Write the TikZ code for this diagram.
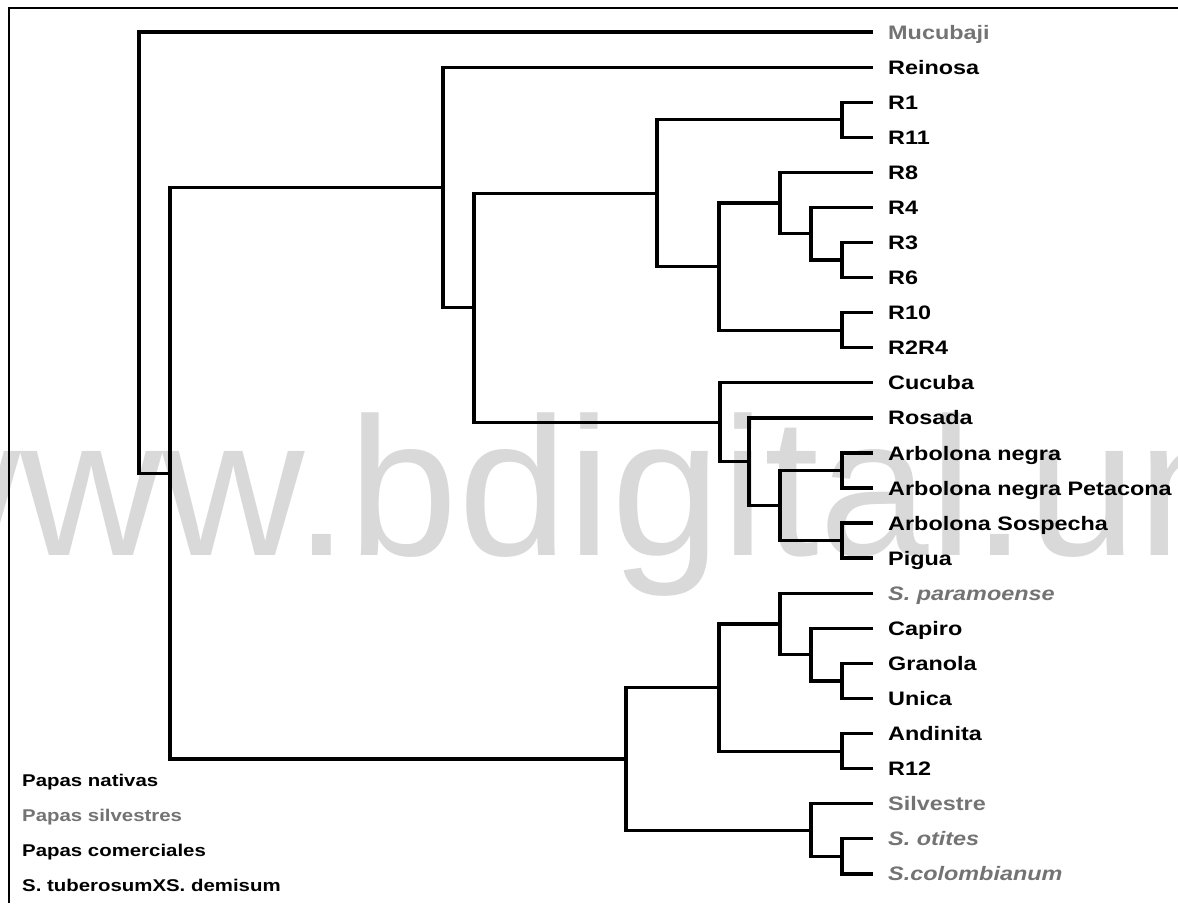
\documentclass[tikz,border=0pt]{standalone}
\usepackage{fontspec}
\setmainfont{Liberation Sans}
\newfontfamily\labfont[FakeStretch=1.2]{Liberation Sans}
\newfontfamily\wmfont{Liberation Sans}
\begin{document}
\begin{tikzpicture}[x=1pt,y=-1pt,
  br/.style={line width=3.2pt},
  frame/.style={line width=2.5pt},
  lab/.style={anchor=base west, inner sep=0pt, font=\labfont\bfseries\fontsize{19.5}{20}\selectfont},
  glab/.style={lab, text=black!55},
  gilab/.style={lab, text=black!55, font=\labfont\bfseries\itshape\fontsize{19.5}{20}\selectfont},
  leg/.style={anchor=base west, inner sep=0pt, font=\labfont\bfseries\fontsize{17}{18}\selectfont},
  wm/.style={anchor=base west, inner sep=0pt, text=black!15, font=\wmfont\fontsize{197}{200}\selectfont}]
\useasboundingbox (0,0) rectangle (1178,903);
\fill[white] (0,0) rectangle (1178,903);
% watermark
\begin{scope}
\clip (0,0) rectangle (1178,903);
\node[wm] (wmark) at (-122,555) {www.bdigital.un};
\end{scope}
% frame
\draw[frame] (1178,8) -- (9,8) -- (9,903);
% leaf tips
\coordinate (t0) at (873,32);
\coordinate (t1) at (873,67.1);
\coordinate (t2) at (873,102.2);
\coordinate (t3) at (873,137.2);
\coordinate (t4) at (873,172.3);
\coordinate (t5) at (873,207.4);
\coordinate (t6) at (873,242.5);
\coordinate (t7) at (873,277.6);
\coordinate (t8) at (873,312.6);
\coordinate (t9) at (873,347.7);
\coordinate (t10) at (873,382.8);
\coordinate (t11) at (873,417.9);
\coordinate (t12) at (873,453);
\coordinate (t13) at (873,488);
\coordinate (t14) at (873,523);
\coordinate (t15) at (873,558);
\coordinate (t16) at (873,593.3);
\coordinate (t17) at (873,628.4);
\coordinate (t18) at (873,663.4);
\coordinate (t19) at (873,698.5);
\coordinate (t20) at (873,733.6);
\coordinate (t21) at (873,768.7);
\coordinate (t22) at (873,803.8);
\coordinate (t23) at (873,838.8);
\coordinate (t24) at (873,873.9);
% labels
\node[glab] (L0) at (888,39) {Mucubaji};
\node[lab] (L1) at (888,74.1) {Reinosa};
\node[lab] (L2) at (888,109.2) {R1};
\node[lab] (L3) at (888,144.2) {R11};
\node[lab] (L4) at (888,179.3) {R8};
\node[lab] (L5) at (888,214.4) {R4};
\node[lab] (L6) at (888,249.5) {R3};
\node[lab] (L7) at (888,284.6) {R6};
\node[lab] (L8) at (888,319.6) {R10};
\node[lab] (L9) at (888,354.7) {R2R4};
\node[lab] (L10) at (888,389.8) {Cucuba};
\node[lab] (L11) at (888,424.9) {Rosada};
\node[lab] (L12) at (888,460) {Arbolona negra};
\node[lab] (L13) at (888,495) {Arbolona negra Petacona};
\node[lab] (L14) at (888,530) {Arbolona Sospecha};
\node[lab] (L15) at (888,565) {Pigua};
\node[gilab] (L16) at (888,600.3) {S. paramoense};
\node[lab] (L17) at (888,635.4) {Capiro};
\node[lab] (L18) at (888,670.4) {Granola};
\node[lab] (L19) at (888,705.5) {Unica};
\node[lab] (L20) at (888,740.6) {Andinita};
\node[lab] (L21) at (888,775.7) {R12};
\node[glab] (L22) at (888,810.8) {Silvestre};
\node[gilab] (L23) at (888,845.8) {S. otites};
\node[gilab] (L24) at (888,880.9) {S.colombianum};
% internal nodes
\coordinate (root) at (139,252.6);
\coordinate (n1) at (170,473.1);
\coordinate (n2) at (443,187.4);
\coordinate (n3) at (474,307.7);
\coordinate (n4) at (657,193.2);
\coordinate (nR1) at (842,119.7);
\coordinate (nA) at (719,266.6);
\coordinate (nB) at (780,203);
\coordinate (nC) at (811,233.7);
\coordinate (nD) at (842,260);
\coordinate (nE) at (842,330.2);
\coordinate (nF) at (720,422.2);
\coordinate (nG) at (749,461.7);
\coordinate (nH) at (780,505.5);
\coordinate (nI) at (842,470.5);
\coordinate (nJ) at (842,540.5);
\coordinate (nK) at (626,758.9);
\coordinate (nL) at (719,687.6);
\coordinate (nM) at (780,624);
\coordinate (nN) at (811,654.7);
\coordinate (nO) at (842,681);
\coordinate (nP) at (842,751.2);
\coordinate (nQ) at (811,830.1);
\coordinate (nR) at (842,856.4);
% branches
\draw[br] (root) |- (t0)  (root) |- (n1);
\draw[br] (n1) |- (n2)  (n1) |- (nK);
\draw[br] (n2) |- (t1)  (n2) |- (n3);
\draw[br] (n3) |- (n4)  (n3) |- (nF);
\draw[br] (n4) |- (nR1)  (n4) |- (nA);
\draw[br] (nR1) |- (t2)  (nR1) |- (t3);
\draw[br] (nA) |- (nB)  (nA) |- (nE);
\draw[br] (nB) |- (t4)  (nB) |- (nC);
\draw[br] (nC) |- (t5)  (nC) |- (nD);
\draw[br] (nD) |- (t6)  (nD) |- (t7);
\draw[br] (nE) |- (t8)  (nE) |- (t9);
\draw[br] (nF) |- (t10)  (nF) |- (nG);
\draw[br] (nG) |- (t11)  (nG) |- (nH);
\draw[br] (nH) |- (nI)  (nH) |- (nJ);
\draw[br] (nI) |- (t12)  (nI) |- (t13);
\draw[br] (nJ) |- (t14)  (nJ) |- (t15);
\draw[br] (nK) |- (nL)  (nK) |- (nQ);
\draw[br] (nL) |- (nM)  (nL) |- (nP);
\draw[br] (nM) |- (t16)  (nM) |- (nN);
\draw[br] (nN) |- (t17)  (nN) |- (nO);
\draw[br] (nO) |- (t18)  (nO) |- (t19);
\draw[br] (nP) |- (t20)  (nP) |- (t21);
\draw[br] (nQ) |- (t22)  (nQ) |- (nR);
\draw[br] (nR) |- (t23)  (nR) |- (t24);
% legend
\node[leg] (g1) at (22,786) {Papas nativas};
\node[leg, text=black!55] (g2) at (22,821) {Papas silvestres};
\node[leg] (g3) at (22,856) {Papas comerciales};
\node[leg] (g4) at (22,891) {S. tuberosumXS. demisum};
\end{tikzpicture}
\end{document}
